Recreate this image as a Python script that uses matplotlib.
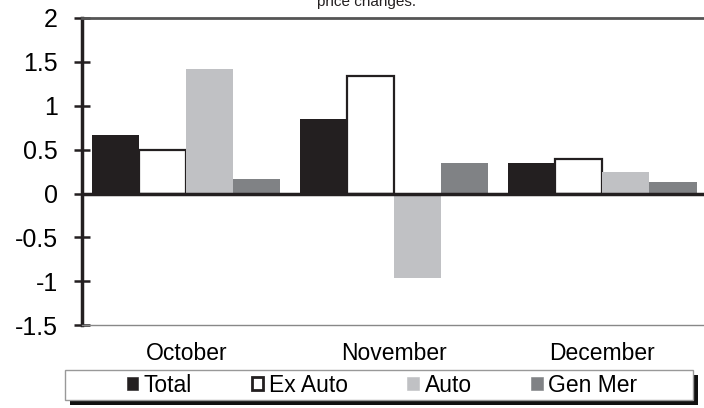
import matplotlib.pyplot as plt
import numpy as np
from matplotlib.patches import Patch, Rectangle

plt.rcParams['font.family'] = ['Liberation Sans', 'DejaVu Sans']

months = ['October', 'November', 'December']
series = ['Total', 'Ex Auto', 'Auto', 'Gen Mer']
total = [0.67, 0.85, 0.35]
ex_auto = [0.49, 1.34, 0.39]
auto = [1.42, -0.96, 0.25]
gen_mer = [0.17, 0.35, 0.13]

values = [total, ex_auto, auto, gen_mer]
fills = ['#231f20', 'white', '#c0c1c4', '#808285']
edges = ['#231f20', '#231f20', '#c0c1c4', '#808285']
lws = [0, 1.6, 0, 0]

fig = plt.figure(figsize=(7.04, 4.08), dpi=100)
ax = fig.add_axes([0.1165, 0.203, 0.8835, 0.753])

x = np.arange(len(months))
w = 0.226
for i, vals in enumerate(values):
    ax.bar(x + (i - 1.5) * w, vals, w, color=fills[i], edgecolor=edges[i],
           linewidth=lws[i], zorder=2)

ax.axhline(0, color='#231f20', lw=2.5, zorder=3)
ax.set_xlim(-0.502, 2.488)
ax.set_ylim(-1.5, 2)
ax.set_yticks([-1.5, -1, -0.5, 0, 0.5, 1, 1.5, 2])
ax.set_yticklabels(['-1.5', '-1', '-0.5', '0', '0.5', '1', '1.5', '2'])
ax.set_xticks(x)
ax.set_xticklabels(months, fontsize=16.5)
ax.tick_params(axis='x', length=0, pad=12)
ax.tick_params(axis='y', direction='inout', length=11, width=1.8, labelsize=18, pad=12,
               color='#231f20')
ax.spines['right'].set_visible(False)
ax.spines['bottom'].set_linewidth(1)
ax.spines['bottom'].set_color('#888888')
ax.spines['left'].set_linewidth(2.5)
ax.spines['left'].set_color('#231f20')
ax.spines['top'].set_linewidth(2)
ax.spines['top'].set_color('#555555')

# title text sits at the very top edge, as in the source image
fig.text(0.52, 1 - 6 / 408, 'price changes.', ha='center', va='baseline', fontsize=11,
         color='#231f20')

# legend frame with a black drop shadow
bx, by, bw, bh = 65 / 704, 1 - 400 / 408, 628 / 704, 30 / 408
fig.patches.append(Rectangle((bx + 5 / 704, by - 5 / 408), bw, bh, transform=fig.transFigure,
                             facecolor='#111111', edgecolor='none', zorder=1))
fig.patches.append(Rectangle((bx, by), bw, bh, transform=fig.transFigure,
                             facecolor='white', edgecolor='#999999', lw=1, zorder=2))

handles = [Patch(facecolor=fills[i], edgecolor=edges[i], linewidth=lws[i] + 0.4) for i in range(4)]
leg = fig.legend(handles, series, loc='center', ncol=4,
                 bbox_to_anchor=(bx + bw / 2 + 3 / 704, by + bh / 2), fontsize=16.5,
                 handlelength=0.5, handleheight=0.5, handletextpad=0.25,
                 columnspacing=2.6, frameon=False, borderaxespad=0)
leg.set_zorder(3)

fig.savefig('out.png', dpi=100)
